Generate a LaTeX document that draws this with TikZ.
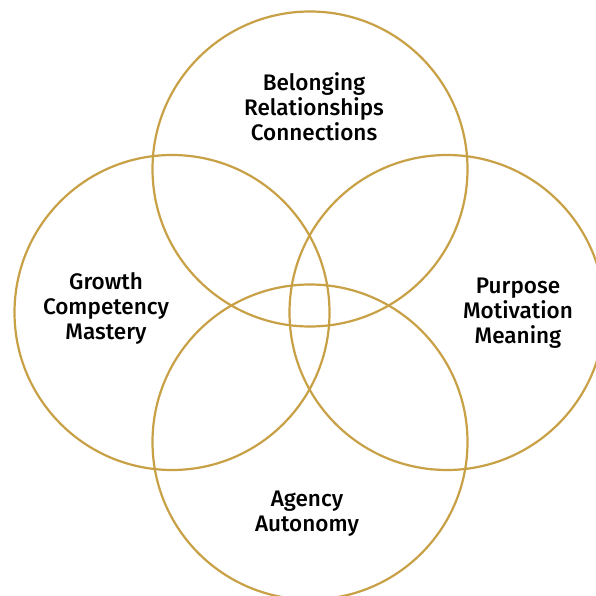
\documentclass[tikz,border=0pt]{standalone}
\usepackage{fontspec}
\setmainfont{Fira Sans}[UprightFont={Fira Sans Medium}]
\definecolor{gold}{HTML}{C8A045}
\begin{document}
\begin{tikzpicture}[x=1pt,y=-1pt,
  ring/.style={draw=gold,line width=2.2pt},
  lbl/.style={align=center,font=\fontsize{22.5}{25}\selectfont,text=black,inner sep=0pt}]
\useasboundingbox[fill=white] (0,0) rectangle (595,596);
\draw[ring] (310,169) circle[radius=157.5];
\draw[ring] (172,312.5) circle[radius=157.5];
\draw[ring] (447,312.5) circle[radius=157.5];
\draw[ring] (310,442) circle[radius=157.5];
\node[lbl] (top) at (314,107) {Belonging\\Relationships\\Connections};
\node[lbl] (left) at (106,308) {Growth\\Competency\\Mastery};
\node[lbl] (right) at (518,313) {Purpose\\Motivation\\Meaning};
\node[lbl] (bottom) at (307,513.5) {Agency\\Autonomy};
\end{tikzpicture}
\end{document}
